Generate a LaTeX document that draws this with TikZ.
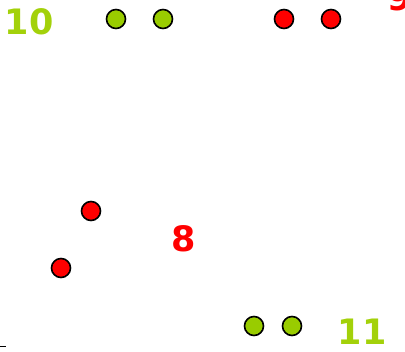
\documentclass[tikz,border=0pt]{standalone}
\usepackage{fontspec}
\setmainfont{DejaVu Sans}
\definecolor{lgreen}{HTML}{99CC00}
\definecolor{tgreen}{HTML}{A3D10A}
\definecolor{dred}{HTML}{FF0000}
\begin{document}
\begin{tikzpicture}[x=1pt,y=-1pt,
  gdot/.style={circle,draw=black,line width=1.6pt,fill=lgreen,minimum size=19pt,inner sep=0pt},
  rdot/.style={circle,draw=black,line width=1.6pt,fill=dred,minimum size=19pt,inner sep=0pt},
  lab/.style={inner sep=0pt,font=\fontsize{35}{38}\selectfont\bfseries}]
\useasboundingbox (0,0) rectangle (405,352);
\clip (0,0) rectangle (405,352);
\node[gdot] (g1) at (116,19) {};
\node[gdot] (g2) at (163,19) {};
\node[rdot] (r1) at (284,19) {};
\node[rdot] (r2) at (331,19) {};
\node[rdot] (r3) at (91,211) {};
\node[rdot] (r4) at (61,268) {};
\node[gdot] (g3) at (254,326) {};
\node[gdot] (g4) at (292,326) {};
\node[lab,text=tgreen] (t10) at (29,22) {10};
\node[lab,text=dred] (t8) at (184,239) {8};
\node[lab,text=tgreen] (t11) at (362,332) {11};
\node[lab,text=dred] (t9) at (400,-2) {9};
\coordinate (m1) at (0,346.5);
\coordinate (m2) at (6,346.5);
\draw[line width=1.2pt] (m1) -- (m2);
\end{tikzpicture}
\end{document}
